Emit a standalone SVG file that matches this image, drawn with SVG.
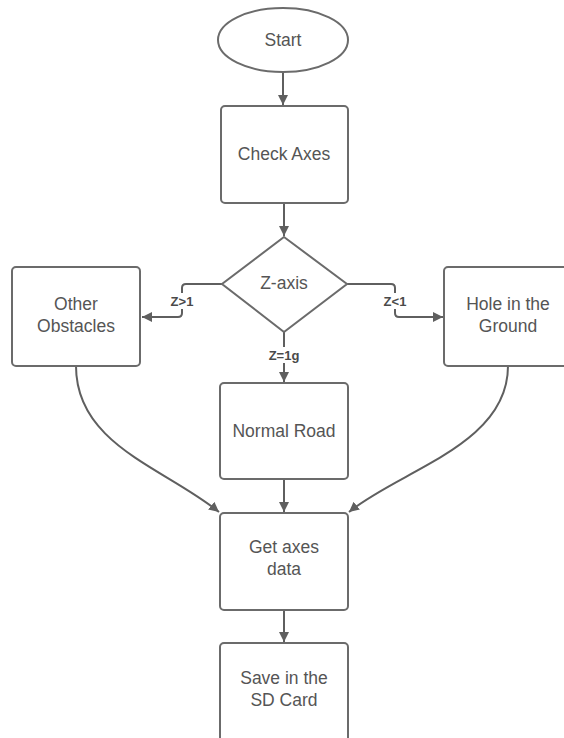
<svg xmlns="http://www.w3.org/2000/svg" width="564" height="738" viewBox="0 0 564 738">
<defs>
<style>
.shape{fill:#fff;stroke:#6b6b6b;stroke-width:2}
.t{font-family:"Liberation Sans",Arial,sans-serif;font-size:17.5px;fill:#555;text-anchor:middle}
.lbl{font-family:"Liberation Sans",Arial,sans-serif;font-size:13px;font-weight:bold;fill:#4a4a4a;text-anchor:middle}
.c{fill:none;stroke:#5f5f5f;stroke-width:2}
.bg{fill:#fff}
</style>
<marker id="ah" viewBox="0 0 10 10" refX="10" refY="5" markerWidth="5" markerHeight="5" markerUnits="strokeWidth" orient="auto">
<path d="M0,0 L10,5 L0,10 z" fill="#5f5f5f"/>
</marker>
</defs>
<rect width="564" height="738" fill="#fff"/>
<g id="connectors">
<path class="c" d="M283,72 V105" marker-end="url(#ah)"/>
<path class="c" d="M284,203 V236" marker-end="url(#ah)"/>
<path class="c" d="M222,284 H186 Q182,284 182,288 V313 Q182,317 178,317 H142" marker-end="url(#ah)"/>
<path class="c" d="M347,284 H391 Q395,284 395,288 V313 Q395,317 399,317 H443" marker-end="url(#ah)"/>
<path class="c" d="M284,332 V382" marker-end="url(#ah)"/>
<path class="c" d="M284,479 V512" marker-end="url(#ah)"/>
<path class="c" d="M284,610 V642" marker-end="url(#ah)"/>
<path class="c" d="M76,366 C76,445 165,468 219,512" marker-end="url(#ah)"/>
<path class="c" d="M508,366 C508,445 400,470 349,512" marker-end="url(#ah)"/>
<rect class="bg" x="166" y="293" width="32" height="16"/>
<text class="lbl" x="182" y="306">Z&gt;1</text>
<rect class="bg" x="379" y="293" width="32" height="16"/>
<text class="lbl" x="395" y="306">Z&lt;1</text>
<rect class="bg" x="264" y="347" width="40" height="16"/>
<text class="lbl" x="284" y="360">Z=1g</text>
</g>
<g id="start">
<ellipse class="shape" cx="283" cy="40" rx="65" ry="32"/>
<text class="t" x="283" y="46">Start</text>
</g>
<g id="check-axes">
<rect class="shape" x="221" y="106" width="127" height="97" rx="4"/>
<text class="t" x="284" y="160">Check Axes</text>
</g>
<g id="z-axis">
<path class="shape" d="M284,237 L347,284 L284,332 L222,284 Z"/>
<text class="t" x="284" y="289">Z-axis</text>
</g>
<g id="other-obstacles">
<rect class="shape" x="12" y="267" width="128" height="99" rx="4"/>
<text class="t" x="76" y="310">Other</text>
<text class="t" x="76" y="332">Obstacles</text>
</g>
<g id="hole-ground">
<rect class="shape" x="444" y="267" width="128" height="99" rx="4"/>
<text class="t" x="508" y="310">Hole in the</text>
<text class="t" x="508" y="332">Ground</text>
</g>
<g id="normal-road">
<rect class="shape" x="220" y="383" width="128" height="96" rx="4"/>
<text class="t" x="284" y="437">Normal Road</text>
</g>
<g id="get-axes">
<rect class="shape" x="220" y="513" width="128" height="97" rx="4"/>
<text class="t" x="284" y="553">Get axes</text>
<text class="t" x="284" y="575">data</text>
</g>
<g id="save-sd">
<rect class="shape" x="220" y="643" width="128" height="100" rx="4"/>
<text class="t" x="284" y="684">Save in the</text>
<text class="t" x="284" y="706">SD Card</text>
</g>
</svg>
